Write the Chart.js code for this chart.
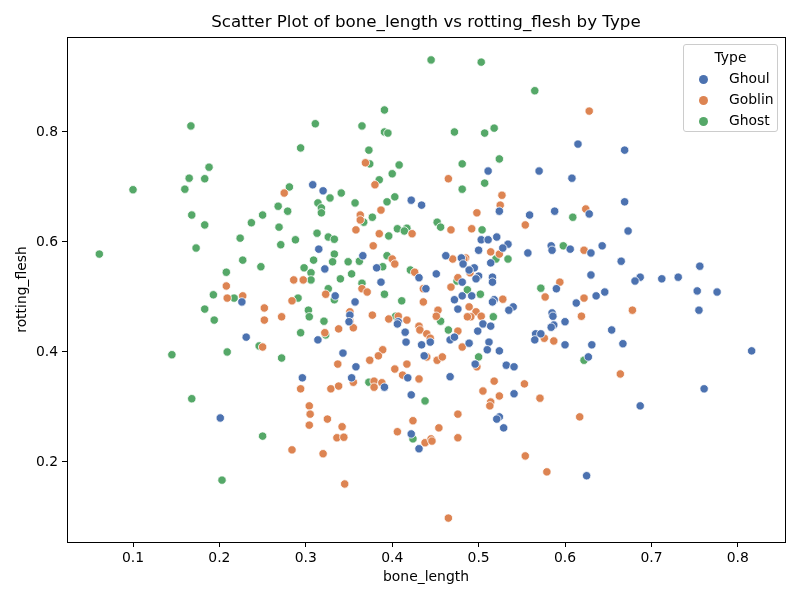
<!DOCTYPE html>
<html>
<head>
<meta charset="utf-8">
<script src="https://cdn.jsdelivr.net/npm/chart.js@4.4.0/dist/chart.umd.min.js"></script>
<style>
  body { margin: 0; background: #fff; }
  #wrap { position: relative; width: 800px; height: 600px; }
  #title {
    position: absolute; left: 67px; width: 718px; top: 11px; text-align: center;
    font-family: "DejaVu Sans", sans-serif; font-size: 16.7px; color: #000; line-height: 20px;
  }
  #legend {
    position: absolute; left: 683px; top: 44px; width: 93px; height: 86px;
    border: 1px solid #cccccc; border-radius: 3px; background: rgba(255,255,255,0.8);
    font-family: "DejaVu Sans", sans-serif; font-size: 13.9px; color: #000;
  }
  #legend .ttl { text-align: center; margin-top: 4px; height: 21px; }
  #legend .row { position: relative; height: 21px; }
  #legend .dot { position: absolute; left: 15px; top: 5px; width: 9px; height: 9px; border-radius: 50%; }
  #legend .lbl { position: absolute; left: 45px; top: 0px; }
</style>
</head>
<body>
<div id="wrap">
  <canvas id="chart" width="800" height="600"></canvas>
  <div id="title">Scatter Plot of bone_length vs rotting_flesh by Type</div>
  <div id="legend"></div>
</div>
<script>
// values: [bone_length, rotting_flesh]
const typeNames = ['Ghoul', 'Goblin', 'Ghost'];
const typeColors = ['#4c72b0', '#dd8452', '#55a868'];

const ghoulData = [
  [0.308,0.704],[0.320,0.693],[0.422,0.676],[0.615,0.778],[0.511,0.729],[0.570,0.729],[0.608,0.716],[0.669,0.767],
  [0.226,0.491],[0.231,0.427],[0.434,0.667],[0.315,0.587],[0.366,0.575],[0.322,0.551],[0.382,0.553],[0.431,0.535],
  [0.387,0.527],[0.334,0.502],[0.357,0.491],[0.351,0.467],[0.350,0.455],[0.407,0.455],[0.406,0.451],[0.415,0.436],
  [0.314,0.422],[0.416,0.418],[0.434,0.413],[0.343,0.398],[0.437,0.393],[0.358,0.373],[0.524,0.656],[0.559,0.649],
  [0.588,0.656],[0.628,0.651],[0.503,0.604],[0.511,0.604],[0.521,0.609],[0.534,0.596],[0.528,0.589],[0.500,0.585],
  [0.514,0.562],[0.462,0.575],[0.480,0.571],[0.482,0.560],[0.557,0.580],[0.584,0.593],[0.585,0.585],[0.606,0.587],
  [0.630,0.580],[0.643,0.593],[0.495,0.553],[0.489,0.549],[0.500,0.538],[0.497,0.533],[0.451,0.542],[0.516,0.536],
  [0.516,0.527],[0.481,0.527],[0.439,0.515],[0.481,0.502],[0.492,0.502],[0.472,0.495],[0.518,0.495],[0.516,0.491],
  [0.540,0.482],[0.535,0.476],[0.476,0.478],[0.505,0.451],[0.514,0.447],[0.499,0.438],[0.444,0.418],[0.467,0.422],
  [0.472,0.427],[0.489,0.416],[0.512,0.418],[0.510,0.404],[0.524,0.402],[0.590,0.515],[0.630,0.540],[0.636,0.502],
  [0.613,0.489],[0.646,0.509],[0.585,0.471],[0.586,0.465],[0.600,0.455],[0.587,0.449],[0.584,0.445],[0.566,0.433],
  [0.572,0.433],[0.565,0.422],[0.600,0.413],[0.631,0.413],[0.496,0.378],[0.532,0.376],[0.541,0.373],[0.627,0.391],
  [0.669,0.673],[0.673,0.620],[0.665,0.565],[0.756,0.556],[0.687,0.536],[0.681,0.529],[0.712,0.533],[0.731,0.536],
  [0.753,0.511],[0.776,0.509],[0.755,0.476],[0.654,0.440],[0.667,0.415],[0.816,0.402],[0.296,0.353],[0.353,0.353],
  [0.391,0.336],[0.418,0.353],[0.422,0.322],[0.422,0.251],[0.431,0.224],[0.467,0.355],[0.541,0.324],[0.524,0.282],
  [0.521,0.278],[0.529,0.262],[0.625,0.175],[0.687,0.302],[0.761,0.333],[0.201,0.280]
];

const goblinData = [
  [0.369,0.744],[0.380,0.704],[0.275,0.689],[0.628,0.838],[0.465,0.715],[0.527,0.685],[0.208,0.520],[0.209,0.498],
  [0.227,0.502],[0.363,0.649],[0.363,0.640],[0.387,0.658],[0.358,0.622],[0.385,0.615],[0.423,0.615],[0.378,0.593],
  [0.400,0.569],[0.403,0.560],[0.426,0.545],[0.286,0.531],[0.297,0.531],[0.365,0.515],[0.371,0.509],[0.323,0.505],
  [0.284,0.493],[0.436,0.491],[0.252,0.480],[0.252,0.458],[0.272,0.464],[0.351,0.473],[0.351,0.456],[0.377,0.467],
  [0.396,0.460],[0.407,0.465],[0.417,0.458],[0.431,0.447],[0.432,0.440],[0.355,0.444],[0.338,0.442],[0.322,0.435],
  [0.250,0.409],[0.389,0.404],[0.384,0.393],[0.374,0.385],[0.337,0.378],[0.417,0.378],[0.403,0.369],[0.436,0.515],
  [0.525,0.667],[0.498,0.653],[0.624,0.660],[0.554,0.631],[0.468,0.622],[0.492,0.624],[0.514,0.582],[0.524,0.578],
  [0.470,0.569],[0.485,0.571],[0.483,0.569],[0.490,0.544],[0.476,0.535],[0.468,0.518],[0.528,0.496],[0.489,0.482],
  [0.453,0.476],[0.451,0.465],[0.497,0.473],[0.503,0.465],[0.491,0.464],[0.487,0.464],[0.476,0.438],[0.440,0.433],
  [0.444,0.425],[0.481,0.409],[0.622,0.585],[0.594,0.527],[0.577,0.500],[0.622,0.498],[0.619,0.465],[0.576,0.425],
  [0.587,0.420],[0.440,0.391],[0.452,0.385],[0.458,0.391],[0.678,0.476],[0.294,0.333],[0.329,0.333],[0.338,0.338],
  [0.355,0.345],[0.379,0.347],[0.379,0.336],[0.388,0.344],[0.412,0.358],[0.431,0.351],[0.304,0.302],[0.305,0.287],
  [0.304,0.267],[0.325,0.278],[0.342,0.264],[0.336,0.244],[0.344,0.245],[0.284,0.222],[0.320,0.215],[0.345,0.160],
  [0.406,0.255],[0.424,0.275],[0.438,0.235],[0.498,0.373],[0.518,0.347],[0.553,0.342],[0.505,0.329],[0.524,0.320],
  [0.571,0.316],[0.514,0.309],[0.513,0.302],[0.476,0.287],[0.617,0.282],[0.454,0.262],[0.445,0.242],[0.446,0.238],
  [0.476,0.244],[0.554,0.211],[0.579,0.182],[0.465,0.098],[0.664,0.360]
];

const ghostData = [
  [0.167,0.811],[0.188,0.736],[0.165,0.716],[0.183,0.715],[0.160,0.696],[0.100,0.695],[0.391,0.840],[0.311,0.815],
  [0.365,0.811],[0.391,0.800],[0.395,0.798],[0.294,0.771],[0.373,0.767],[0.374,0.742],[0.408,0.740],[0.400,0.724],
  [0.385,0.713],[0.281,0.700],[0.341,0.689],[0.328,0.680],[0.403,0.682],[0.445,0.931],[0.503,0.927],[0.565,0.875],
  [0.472,0.800],[0.507,0.798],[0.518,0.807],[0.481,0.742],[0.524,0.751],[0.507,0.707],[0.481,0.696],[0.168,0.649],
  [0.183,0.631],[0.224,0.607],[0.061,0.578],[0.173,0.589],[0.227,0.567],[0.208,0.545],[0.193,0.504],[0.217,0.498],
  [0.183,0.478],[0.194,0.458],[0.145,0.395],[0.209,0.400],[0.357,0.671],[0.394,0.673],[0.268,0.665],[0.279,0.656],
  [0.314,0.671],[0.318,0.662],[0.318,0.653],[0.250,0.649],[0.237,0.635],[0.367,0.636],[0.377,0.645],[0.269,0.627],
  [0.406,0.624],[0.417,0.625],[0.414,0.620],[0.396,0.611],[0.313,0.616],[0.288,0.604],[0.326,0.609],[0.333,0.605],
  [0.271,0.595],[0.394,0.575],[0.333,0.578],[0.331,0.564],[0.309,0.567],[0.349,0.564],[0.362,0.565],[0.248,0.555],
  [0.298,0.553],[0.389,0.555],[0.421,0.549],[0.306,0.544],[0.306,0.531],[0.353,0.542],[0.340,0.533],[0.365,0.525],
  [0.326,0.515],[0.391,0.505],[0.291,0.498],[0.333,0.495],[0.411,0.493],[0.303,0.476],[0.304,0.464],[0.321,0.456],
  [0.404,0.465],[0.294,0.435],[0.323,0.431],[0.246,0.411],[0.272,0.389],[0.609,0.645],[0.452,0.636],[0.456,0.627],
  [0.504,0.622],[0.520,0.569],[0.534,0.569],[0.598,0.593],[0.475,0.529],[0.487,0.513],[0.502,0.505],[0.517,0.464],
  [0.456,0.456],[0.465,0.440],[0.500,0.391],[0.572,0.516],[0.622,0.385],[0.168,0.315],[0.203,0.167],[0.250,0.247],
  [0.373,0.345],[0.438,0.311],[0.424,0.242]
];

const xTicks = [0.1, 0.2, 0.3, 0.4, 0.5, 0.6, 0.7, 0.8];
const yTicks = [0.2, 0.4, 0.6, 0.8];

const font = 'DejaVu Sans';
const seriesData = [ghoulData, goblinData, ghostData];

// matplotlib-style box round the axes
const frame = {
  id: 'frame',
  afterDraw(chart) {
    const a = chart.chartArea;
    const c = chart.ctx;
    c.save();
    c.strokeStyle = '#000';
    c.lineWidth = 1;
    c.strokeRect(a.left + 0.5, a.top + 0.5, a.right - a.left, a.bottom - a.top);
    c.restore();
  }
};

const datasets = typeNames.map((name, i) => ({
  label: name,
  data: seriesData[i].map(p => ({ x: p[0], y: p[1] })),
  backgroundColor: typeColors[i],
  borderColor: '#ffffff',
  borderWidth: 0.8,
  pointRadius: 4.2,
  pointHoverRadius: 4.2
}));

new Chart(document.getElementById('chart'), {
  type: 'scatter',
  data: { datasets: datasets },
  plugins: [frame],
  options: {
    responsive: false,
    animation: false,
    layout: { padding: { top: 37, right: 15, left: 0, bottom: 0 } },
    plugins: {
      legend: { display: false },
      tooltip: { enabled: false },
      title: { display: false }
    },
    scales: {
      x: {
        type: 'linear',
        min: 0.0236,
        max: 0.8546,
        afterFit: s => { s.height = 58; },
        afterBuildTicks: s => { s.ticks = xTicks.map(v => ({ value: v })); },
        ticks: { color: '#000', padding: 3, font: { family: font, size: 13.9 }, callback: v => v.toFixed(1) },
        grid: { display: true, drawOnChartArea: false, drawTicks: true, tickLength: 5, tickColor: '#000' },
        border: { display: true, color: '#000' },
        title: { display: true, text: 'bone_length', color: '#000', font: { family: font, size: 13.9 }, padding: { top: 0, bottom: 14 } }
      },
      y: {
        type: 'linear',
        min: 0.0545,
        max: 0.9727,
        afterFit: s => { s.width = 67; },
        afterBuildTicks: s => { s.ticks = yTicks.map(v => ({ value: v })); },
        ticks: { color: '#000', padding: 4, font: { family: font, size: 13.9 }, callback: v => v.toFixed(1) },
        grid: { display: true, drawOnChartArea: false, drawTicks: true, tickLength: 5, tickColor: '#000' },
        border: { display: true, color: '#000' },
        title: { display: true, text: 'rotting_flesh', color: '#000', font: { family: font, size: 13.9 }, padding: { top: 14, bottom: 0 } }
      }
    }
  }
});

// legend box in the upper right, as in the reference
const legend = document.getElementById('legend');
let html = '<div class="ttl">Type</div>';
typeNames.forEach((name, i) => {
  html += '<div class="row"><span class="dot" style="background:' + typeColors[i] + '"></span><span class="lbl">' + name + '</span></div>';
});
legend.innerHTML = html;
</script>
</body>
</html>
